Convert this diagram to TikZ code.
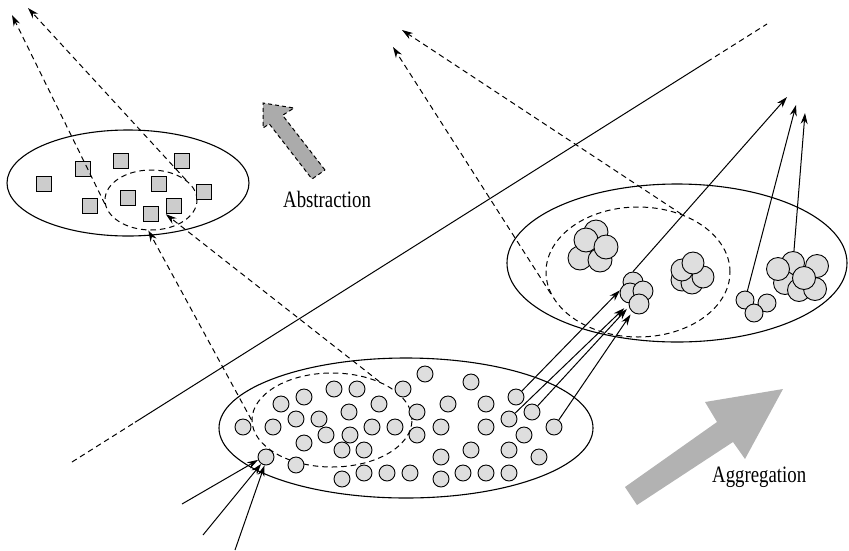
\documentclass[tikz,border=0pt]{standalone}
\usepackage{fontspec}
\setmainfont{Liberation Serif}
\usetikzlibrary{arrows.meta,shapes.geometric}

\begin{document}
\begin{tikzpicture}[
    x=1pt, y=-1pt,
    >={Stealth[length=11pt, width=7pt]},
    link/.style={black, line width=1pt},
    proj/.style={black, line width=1pt, dash pattern=on 5.5pt off 4pt},
    outer/.style={draw=black, line width=1.1pt},
    inner/.style={ellipse, draw=black, line width=1pt,
                  dash pattern=on 5.5pt off 4pt, inner sep=0pt},
    obj/.style={rectangle, draw=black, line width=0.9pt, fill=black!20,
                minimum size=15.5pt, inner sep=0pt},
    dot/.style={circle, draw=black, line width=0.9pt, fill=black!13,
                minimum size=16pt, inner sep=0pt},
    blob/.style={dot, minimum size=#1},
    bigarrow/.style={fill=black!30},
    lab/.style={font=\fontsize{23.5}{26}\selectfont, anchor=base west,
                inner sep=0pt},
]
\useasboundingbox (0,0) rectangle (849,550);

% ---- separating line ----
\coordinate (sep1) at (72,462);
\coordinate (sep2) at (135,422.3);
\coordinate (sep3) at (707,61.8);
\coordinate (sep4) at (767,24);
\draw[proj] (sep1) -- (sep2);
\draw[link] (sep2) -- (sep3);
\draw[proj] (sep3) -- (sep4);

% ---- big arrows ----
\fill[bigarrow] (625,487) -- (717,422) -- (705,402) -- (783,389)
    -- (745,459) -- (733,442) -- (637,505) -- cycle;
\draw[bigarrow, fill=black!33, draw=black, line width=1pt,
      dash pattern=on 4pt off 3pt]
    (325,170) -- (282.6,115.3) -- (294,108) -- (263,103) -- (263,128)
    -- (269.3,123.9) -- (312,179) -- cycle;
\node[lab] (abstr) at (283,207) {\scalebox{0.8}[1]{Abstraction}};
\node[lab] (aggr) at (712,482) {\scalebox{0.8}[1]{Aggregation}};

% ---- abstract level (squares) ----
\draw[outer] (128,183) ellipse [x radius=121, y radius=53];
\node[inner, minimum width=92pt, minimum height=60pt] (tlin) at (151,200) {};
\foreach \x/\y [count=\i] in {44/184, 83/169, 121/161, 182/161, 159/184,
                              204/192, 90/206, 128/198, 174/206, 151/214} {
    \node[obj] (s\i) at (\x,\y) {};
}

% ---- raw level (single objects) ----
\draw[outer] (406,428) ellipse [x radius=187, y radius=70];
\node[inner, minimum width=160pt, minimum height=94pt] (bin) at (332,420) {};
\foreach \x/\y [count=\i] in {425/374, 471/382, 334/389, 357/389, 403/389,
        304/397, 281/404, 379/404, 448/404, 486/404, 516/397, 349/412,
        417/412, 532/412, 296/419, 319/419, 509/419, 243/427, 273/427,
        326/435, 350/435, 372/427, 395/427, 417/435, 441/427, 486/427,
        554/427, 524/435, 304/443, 342/450, 364/450, 471/450, 509/450,
        441/457, 539/457, 266/457, 296/465, 364/473, 342/479, 387/473,
        410/473, 441/479, 463/473, 486/473, 509/473} {
    \node[dot] (b\i) at (\x,\y) {};
}

% ---- aggregated level (clusters) ----
\draw[outer] (677,263) ellipse [x radius=170, y radius=79];
\node[inner, minimum width=184pt, minimum height=130pt] (rin) at (638,272) {};
\foreach \x/\y [count=\i] in {596/232, 580/258, 600/260, 586/240, 606/247} {
    \node[blob=24pt] (a\i) at (\x,\y) {};
}
\foreach \x/\y [count=\i] in {682/280, 692/283, 682/270, 703/277, 693/263} {
    \node[blob=22pt] (k\i) at (\x,\y) {};
}
\foreach \x/\y [count=\i] in {633/282, 630/293, 643/291, 639/304} {
    \node[blob=20pt] (c\i) at (\x,\y) {};
}
\foreach \x/\y [count=\i] in {745/300, 767/303, 754/313} {
    \node[blob=18pt] (d\i) at (\x,\y) {};
}
\foreach \x/\y [count=\i] in {793/263, 785/283, 799/290, 815/289,
                              778/269, 817/266, 804/278} {
    \node[blob=23pt] (e\i) at (\x,\y) {};
}

% ---- aggregation links ----
\draw[link,->] (b11) -- (c2.165);
\draw[link,->,shorten >=6pt] (b17) -- (c4.180);
\draw[link,->,shorten >=3pt] (b14) -- (c4.195);
\draw[link,->,shorten >=3pt] (b27) -- (c4.230);

\coordinate (in1) at (182,504);
\coordinate (in2) at (203,535);
\coordinate (in3) at (235,550);
\draw[link,->] (in1) -- (b36.200);
\draw[link,->] (in2) -- (b36.235);
\draw[link,->] (in3) -- (b36.260);

\coordinate (t1) at (787,97);
\coordinate (t2) at (796,105);
\coordinate (t3) at (805,113);
\draw[link,->] (c1.north) -- (t1);
\draw[link,->] (d1) -- (t2);
\draw[link,->] (e1) -- (t3);

% ---- abstraction projections ----
\coordinate (p1) at (12,15);
\coordinate (p2) at (28,8);
\coordinate (p3) at (402,30);
\coordinate (p4) at (393,47);
\draw[proj,->] (tlin.185) -- (p1);
\draw[proj,->] (tlin.30) -- (p2);
\draw[proj,->] (bin.180) -- (tlin.265);
\draw[proj,->] (bin.39) -- (s9.south west);
\draw[proj,->] (rin.53) -- (p3);
\draw[proj,->] (rin.194) -- (p4);
\end{tikzpicture}
\end{document}
